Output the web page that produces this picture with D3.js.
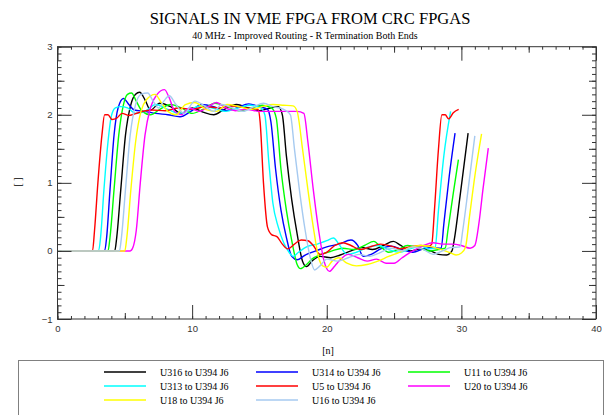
<!DOCTYPE html>
<html>
<head>
<meta charset="utf-8">
<script src="https://cdnjs.cloudflare.com/ajax/libs/d3/7.8.5/d3.min.js"></script>
<style>
  body { margin: 0; background: #fff; }
  .tick text { font-family: "Liberation Sans", Arial, sans-serif; font-size: 9.5px; fill: #333; }
</style>
</head>
<body>
<div id="chart"></div>
<script>
var width = 606,
  height = 415;

// waveforms, [ns, V]
var u5 = [[0,0],[2.6,0],[2.75,0.3],[3.0,1.0],[3.3,1.7],[3.5,2.0],[3.75,2.0],[4.05,1.93],[4.4,1.95],[4.8,2.02],[5.3,1.99],[6.0,2.03],[7.0,2.07],[8.0,2.06],[9.0,2.1],[10.0,2.08],[11.0,2.12],[12.0,2.1],[13.0,2.13],[14.0,2.1],[14.9,2.08],[15.05,1.9],[15.3,1.0],[15.6,0.35],[15.9,0.24],[16.3,0.21],[16.7,0.1],[17.1,0.03],[17.6,0.1],[18.1,0.16],[18.6,0.15],[19.0,0.08],[19.5,-0.05],[20.0,-0.02],[20.6,0.08],[21.2,0.12],[21.8,0.08],[22.5,0.02],[23.2,0.06],[24.0,0.1],[24.8,0.07],[25.5,0.03],[26.2,0.06],[27.0,0.08],[27.6,0.07],[27.8,0.1],[28.0,0.6],[28.3,1.5],[28.55,2.0],[28.8,2.0],[29.05,1.94],[29.4,2.03],[29.8,2.08]];
var u313 = [[0,0],[3.05,0],[3.2,0.2],[3.45,0.9],[3.75,1.6],[4.0,1.98],[4.3,2.1],[4.7,2.12],[5.2,2.1],[5.8,2.02],[6.5,2.05],[7.3,2.15],[8.2,2.08],[9.0,2.02],[9.8,2.07],[10.6,2.13],[11.5,2.1],[12.5,2.05],[13.4,2.1],[14.3,2.14],[15.1,2.1],[15.4,2.0],[15.7,1.3],[16.0,0.7],[16.4,0.35],[16.8,0.12],[17.2,-0.02],[17.5,-0.08],[17.9,-0.02],[18.5,0.06],[19.3,0.1],[20.0,0.15],[20.5,0.19],[20.9,0.1],[21.5,-0.05],[22.2,-0.02],[23.0,0.05],[23.8,0.08],[24.6,0.02],[25.4,-0.02],[26.2,0.03],[27.0,0.07],[27.6,0.03],[28.05,0.05],[28.3,0.6],[28.7,1.4],[29.2,2.05]];
var u314 = [[0,0],[3.5,0],[3.65,0.2],[3.9,0.9],[4.2,1.7],[4.5,2.1],[4.9,2.24],[5.3,2.15],[5.7,2.07],[6.5,2.05],[7.3,2.02],[8.2,2.0],[9.1,1.97],[9.9,2.05],[10.7,2.15],[11.6,2.12],[12.5,2.06],[13.3,2.1],[14.2,2.16],[15.0,2.12],[15.6,2.08],[15.85,1.9],[16.2,1.2],[16.6,0.6],[17.0,0.2],[17.4,-0.08],[17.8,-0.13],[18.4,-0.06],[19.2,0.0],[20.0,0.06],[20.9,0.1],[21.8,0.16],[22.3,0.08],[22.7,-0.08],[23.3,-0.05],[24.0,0.03],[24.8,0.07],[25.6,0.02],[26.4,-0.02],[27.2,0.03],[27.9,0.05],[28.5,0.04],[28.7,0.4],[29.1,1.1],[29.53,1.73]];
var u11 = [[0,0],[3.75,0],[3.9,0.2],[4.2,0.9],[4.55,1.7],[4.9,2.15],[5.2,2.3],[5.5,2.32],[5.85,2.2],[6.3,2.05],[6.9,2.0],[7.6,2.08],[8.4,2.15],[9.2,2.1],[10.0,2.02],[10.8,2.08],[11.7,2.17],[12.6,2.12],[13.5,2.06],[14.4,2.1],[15.2,2.14],[15.9,2.1],[16.25,1.95],[16.6,1.2],[17.0,0.6],[17.4,0.15],[17.8,-0.2],[18.05,-0.26],[18.5,-0.2],[18.9,-0.12],[19.6,-0.05],[20.4,0.0],[21.2,0.04],[22.0,0.02],[22.8,0.08],[23.5,0.14],[24.0,0.06],[24.6,-0.02],[25.3,0.02],[26.0,0.08],[26.8,0.05],[27.6,0.0],[28.3,0.02],[28.8,0.04],[29.0,0.3],[29.4,0.85],[29.78,1.34]];
var u316 = [[0,0],[4.25,0],[4.4,0.2],[4.7,0.9],[5.05,1.7],[5.45,2.15],[5.8,2.3],[6.1,2.33],[6.5,2.22],[6.9,2.07],[7.6,2.17],[8.4,2.12],[9.2,2.02],[10.0,2.1],[10.8,2.04],[11.6,2.0],[12.4,2.08],[13.3,2.15],[14.2,2.1],[15.0,2.06],[15.8,2.1],[16.4,2.12],[16.7,2.0],[17.0,1.4],[17.4,0.75],[17.8,0.25],[18.2,-0.15],[18.5,-0.23],[18.9,-0.15],[19.5,-0.08],[20.3,-0.1],[21.0,-0.06],[21.8,0.0],[22.6,0.05],[23.4,0.02],[24.2,0.08],[24.95,0.14],[25.5,0.08],[26.2,0.0],[27.0,0.03],[27.7,0.0],[28.3,-0.05],[28.9,-0.06],[29.3,0.0],[29.5,0.2],[29.9,0.8],[30.5,1.73]];
var u16 = [[0,0],[4.6,0],[4.75,0.2],[5.05,0.9],[5.4,1.7],[5.8,2.15],[6.2,2.3],[6.7,2.32],[7.1,2.2],[7.5,2.1],[7.9,2.2],[8.3,2.28],[8.8,2.15],[9.4,2.02],[10.2,2.2],[11.0,2.12],[11.6,2.05],[12.2,2.15],[13.0,2.1],[13.8,2.05],[14.6,2.12],[15.3,2.17],[16.0,2.12],[16.8,2.08],[17.3,2.0],[17.6,1.5],[18.0,0.85],[18.4,0.3],[18.8,-0.12],[19.1,-0.28],[19.5,-0.22],[20.0,-0.12],[20.8,-0.15],[21.6,-0.1],[22.4,-0.05],[23.2,-0.08],[24.0,-0.02],[24.8,0.04],[25.6,0.0],[26.4,0.06],[27.2,0.02],[27.9,-0.05],[28.6,0.0],[29.2,0.05],[29.9,0.06],[30.1,0.3],[30.5,0.9],[31.0,1.69]];
var u18 = [[0,0],[5.0,0],[5.15,0.2],[5.45,0.9],[5.8,1.6],[6.2,2.05],[6.6,2.22],[7.25,2.3],[7.7,2.18],[8.2,2.05],[8.8,2.0],[9.5,2.15],[10.2,2.18],[11.0,2.08],[11.8,2.05],[12.6,2.15],[13.5,2.12],[14.4,2.08],[15.2,2.12],[16.0,2.15],[16.8,2.14],[17.5,2.13],[17.8,2.05],[18.2,1.5],[18.6,0.9],[19.0,0.35],[19.4,-0.1],[19.7,-0.22],[20.0,-0.24],[20.4,-0.15],[20.9,-0.1],[21.5,-0.18],[22.2,-0.22],[23.0,-0.2],[23.8,-0.15],[24.6,-0.08],[25.4,-0.02],[26.2,0.05],[27.0,0.08],[27.8,0.06],[28.5,0.02],[29.1,-0.02],[29.6,-0.06],[30.0,-0.03],[30.3,0.05],[30.6,0.5],[31.0,1.1],[31.5,1.72]];
var u20 = [[0,0],[5.4,0],[5.6,0.05],[5.85,0.3],[6.15,1.0],[6.5,1.7],[6.9,2.1],[7.4,2.3],[7.95,2.37],[8.3,2.25],[8.7,2.05],[9.2,2.0],[9.8,2.1],[10.5,2.05],[11.2,2.12],[11.8,2.18],[12.5,2.1],[13.2,2.06],[14.0,2.08],[15.0,2.05],[16.0,2.05],[17.0,2.05],[17.8,2.05],[18.3,2.02],[18.6,1.6],[19.0,0.9],[19.4,0.3],[19.8,-0.15],[20.2,-0.3],[20.6,-0.22],[21.0,-0.13],[21.6,-0.05],[22.3,-0.1],[23.0,-0.15],[23.7,-0.12],[24.4,-0.18],[25.0,-0.18],[25.6,-0.1],[26.4,0.0],[27.2,0.08],[27.9,0.12],[28.6,0.1],[29.3,0.1],[30.0,0.08],[30.65,0.04],[31.0,0.08],[31.3,0.4],[31.6,0.9],[32.0,1.51]];

var seriesNames = ['U316 to U394 J6', 'U314 to U394 J6', 'U11 to U394 J6',
  'U313 to U394 J6', 'U5 to U394 J6', 'U20 to U394 J6',
  'U18 to U394 J6', 'U16 to U394 J6'];
var seriesColors = ['#000000', '#0000ff', '#00ff00', '#00ffff', '#ff0000', '#ff00ff', '#ffff00', '#a6caf0'];
var seriesData = [u316, u314, u11, u313, u5, u20, u18, u16];

var xTicks = [0, 10, 20, 30, 40],
  yTicks = [-1, 0, 1, 2, 3];

var svg = d3.select('#chart')
  .append('svg')
  .attr('width', width)
  .attr('height', height);

var x = d3.scaleLinear().domain([0, 40]).range([57.5, 596]);
var y = d3.scaleLinear().domain([-1, 3]).range([319, 46.7]);

// titles
svg.append('text')
  .attr('x', 310).attr('y', 24)
  .attr('text-anchor', 'middle')
  .style('font-family', '"Liberation Serif", "Times New Roman", serif')
  .style('font-size', '16.5px')
  .text('SIGNALS IN VME FPGA FROM CRC FPGAS');

svg.append('text')
  .attr('x', 305).attr('y', 39)
  .attr('text-anchor', 'middle')
  .style('font-family', '"Liberation Serif", "Times New Roman", serif')
  .style('font-size', '10px')
  .text('40 MHz - Improved Routing - R Termination Both Ends');

// curves
var line = d3.line()
  .x(function(d){ return x(d[0]); })
  .y(function(d){ return y(d[1]); })
  .curve(d3.curveMonotoneX);

svg.append('g').selectAll('path')
  .data(seriesData)
  .enter().append('path')
  .attr('fill', 'none')
  .attr('stroke', function(d, i){ return seriesColors[i]; })
  .attr('stroke-width', 1.4)
  .attr('d', line);

// tick marks on all four sides, pointing in
function ticks(axisFn, scale, values, len, pos, labels) {
  var a = axisFn(scale).tickValues(values).tickSize(-len).tickPadding(6);
  a.tickFormat(labels ? d3.format('d') : '');
  var g = svg.append('g').attr('transform', pos).call(a);
  g.select('.domain').remove();
  g.selectAll('.tick line').attr('stroke', '#333');
  return g;
}

var xMinor = d3.range(0, 41, 1),
  xMid = [5, 15, 25, 35],
  yMinor = d3.range(-1, 3.01, 0.1),
  yMid = [-0.5, 0.5, 1.5, 2.5];

ticks(d3.axisBottom, x, xMinor, 3, 'translate(0,' + y(-1) + ')', false);
ticks(d3.axisBottom, x, xMid, 6, 'translate(0,' + y(-1) + ')', false);
ticks(d3.axisBottom, x, xTicks, 14, 'translate(0,' + y(-1) + ')', true);
ticks(d3.axisTop, x, xMinor, 3, 'translate(0,' + y(3) + ')', false);
ticks(d3.axisTop, x, xMid, 6, 'translate(0,' + y(3) + ')', false);
ticks(d3.axisTop, x, xTicks, 14, 'translate(0,' + y(3) + ')', false);

ticks(d3.axisLeft, y, yMinor, 4, 'translate(' + x(0) + ',0)', false);
ticks(d3.axisLeft, y, yMid, 7, 'translate(' + x(0) + ',0)', false);
ticks(d3.axisLeft, y, yTicks, 14, 'translate(' + x(0) + ',0)', true)
  .selectAll('.tick text').attr('dx', '1');
ticks(d3.axisRight, y, yMinor, 4, 'translate(' + x(40) + ',0)', false);
ticks(d3.axisRight, y, yMid, 7, 'translate(' + x(40) + ',0)', false);
ticks(d3.axisRight, y, yTicks, 14, 'translate(' + x(40) + ',0)', false);

svg.append('rect')
  .attr('x', x(0)).attr('y', y(3))
  .attr('width', x(40) - x(0))
  .attr('height', y(-1) - y(3))
  .attr('fill', 'none')
  .attr('stroke', '#333');

// axis names
svg.append('text')
  .attr('x', 328).attr('y', 354)
  .attr('text-anchor', 'middle')
  .style('font-family', '"Liberation Serif", serif')
  .style('font-size', '10px')
  .text('[n]');

svg.append('text')
  .attr('transform', 'translate(21,182) rotate(-90)')
  .attr('text-anchor', 'middle')
  .style('font-family', '"Liberation Serif", serif')
  .style('font-size', '10px')
  .text('[ ]');

// legend
svg.append('rect')
  .attr('x', 18.5).attr('y', 360.5)
  .attr('width', 585).attr('height', 80)
  .attr('fill', 'none')
  .attr('stroke', '#808080');

var leg = svg.append('g').selectAll('g')
  .data(seriesNames)
  .enter().append('g')
  .attr('transform', function(d, i){
    return 'translate(' + (104 + (i % 3) * 152) + ',' + (372 + Math.floor(i / 3) * 14) + ')';
  });

leg.append('line')
  .attr('x1', 0).attr('x2', 42)
  .attr('stroke', function(d, i){ return seriesColors[i]; })
  .attr('stroke-width', 1.4);

leg.append('text')
  .attr('x', 56).attr('y', 3.5)
  .style('font-family', '"Liberation Serif", serif')
  .style('font-size', '10px')
  .text(function(d){ return d; });
</script>
</body>
</html>
